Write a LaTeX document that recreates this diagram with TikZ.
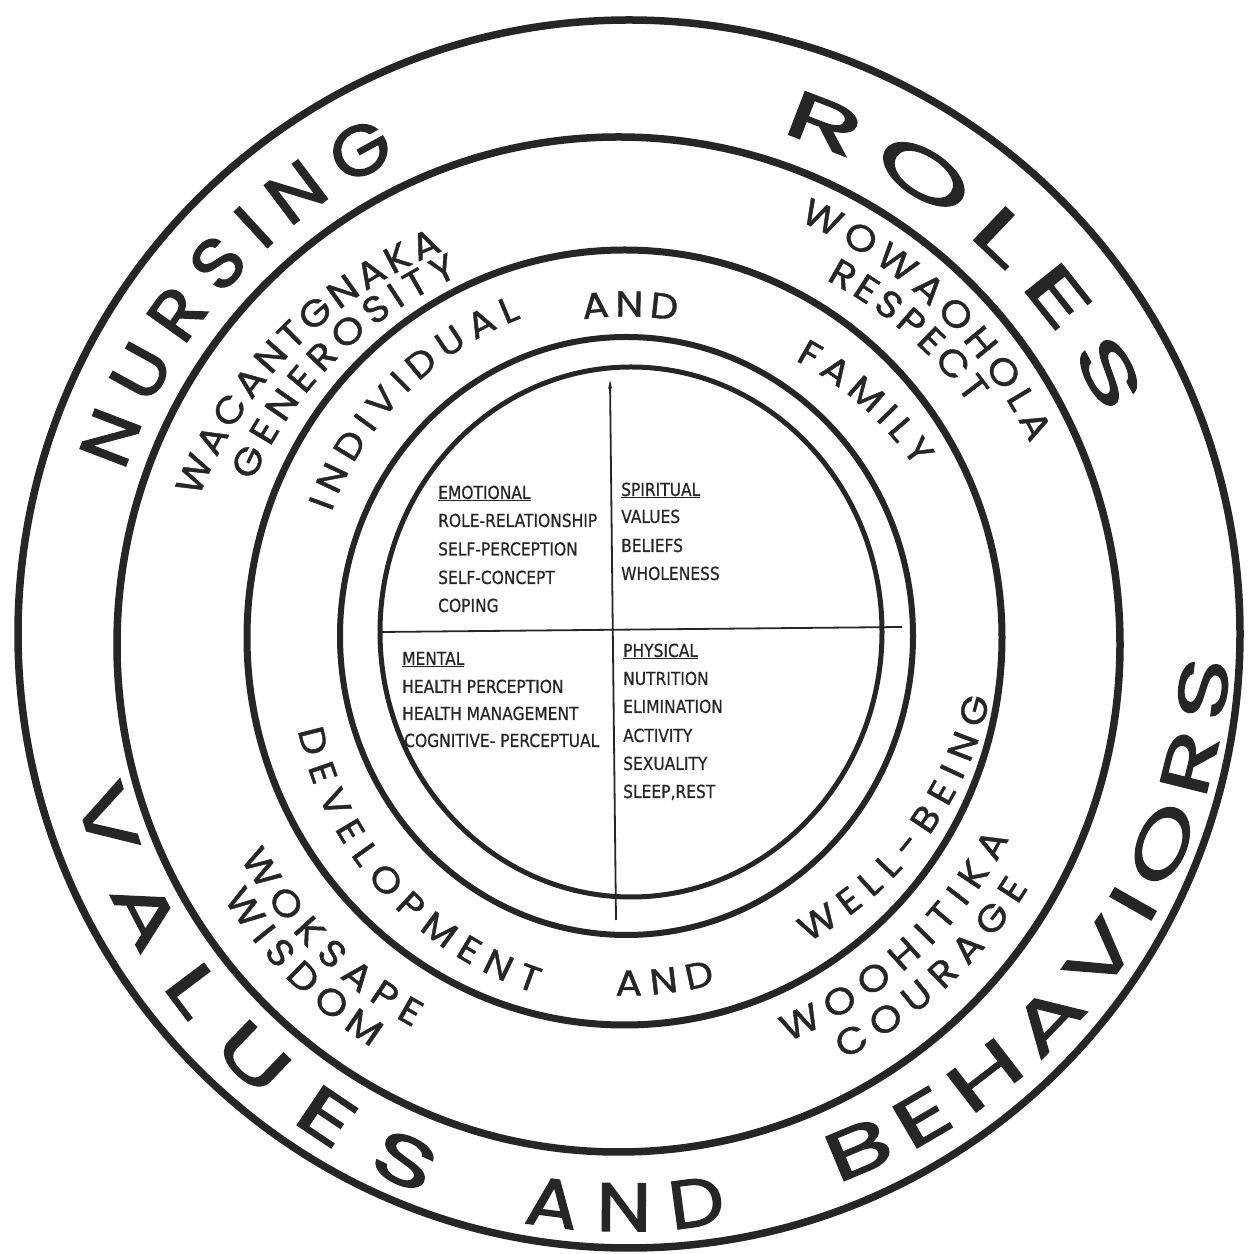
\documentclass[tikz,border=0pt]{standalone}
\usepackage{fontspec}
\usetikzlibrary{decorations.text,arrows.meta}
\newfontfamily\gothicR[FakeStretch=1.1,FakeBold=1.2]{Poppins}
\newfontfamily\gothicN[FakeStretch=1.1,FakeBold=2]{Poppins}
\newfontfamily\gothicB[FakeStretch=1.15,FakeBold=2]{Poppins}
\newfontfamily\gothicC[FakeStretch=1.6,FakeBold=2]{Poppins}
\newfontfamily\gothicD[FakeStretch=1.95,FakeBold=2]{Poppins}
\newfontfamily\innerfont[FakeStretch=0.86,FakeBold=0.6]{DejaVu Sans}
\definecolor{ink}{HTML}{262626}
\newcommand\fNurs{\gothicN\fontsize{70}{80}\selectfont\color{ink}}
\newcommand\fRoles{\gothicD\fontsize{66}{76}\selectfont\color{ink}}
\newcommand\fVal{\gothicC\fontsize{68}{78}\selectfont\color{ink}}
\newcommand\fAnd{\gothicB\fontsize{68}{78}\selectfont\color{ink}}
\newcommand\fRingC{\gothicR\fontsize{37}{42}\selectfont\color{ink}}
\newcommand\fRingD{\gothicR\fontsize{36}{41}\selectfont\color{ink}}
% #1 format, #2 word, #3 start angle, #4 end angle, #5 start radius, #6 end radius
\newcommand\arcword[6]{%
  \path[decorate,decoration={text along path,text={#1#2},text align=fit to path}]
    plot[domain=#3:#4,samples=90,variable=\t]
    ({(#5+(#6-#5)*(\t-(#3))/((#4)-(#3)))*cos(\t)},{(#5+(#6-#5)*(\t-(#3))/((#4)-(#3)))*sin(\t)});
}
\begin{document}
\begin{tikzpicture}[x=1pt,y=1pt,
  ring/.style={draw=ink},
  axis/.style={draw=ink,line width=1.8pt},
  inner/.style={font=\innerfont\fontsize{18}{20}\selectfont,text=ink,inner sep=0pt,anchor=base west}]
\fill[white] (0,0) rectangle (1253,1254);
\useasboundingbox (0,0) rectangle (1253,1254);

% ---------- outer ring words ----------
\begin{scope}[shift={(624,615)}]
  \arcword{|\fNurs|}{NURSING}{161.5}{115.1}{527}{531}
  \arcword{|\fRoles|}{ROLES}{73}{24.7}{530}{530}
  \arcword{|\fVal|}{VALUES}{195.4}{250.2}{569}{591}
  \arcword{|\fAnd|}{AND}{260.2}{280}{592}{592}
  \arcword{|\fVal|}{BEHAVIORS}{291.3}{358}{584}{606}
\end{scope}

% ---------- third ring words ----------
\begin{scope}[shift={(621.5,613)}]
  \arcword{|\fRingC|}{WACANTGNAKA}{161.3}{114.6}{446.5}{429}
  \arcword{|\fRingC|}{GENEROSITY}{156.6}{114}{401.6}{399.6}
  \arcword{|\fRingC|}{WOWAOHOLA}{67.1}{25.8}{456}{454}
  \arcword{|\fRingC|}{RESPECT}{60.5}{34.2}{415}{421}
  \arcword{|\fRingC|}{WOKSAPE}{209.6}{241.7}{438.5}{439}
  \arcword{|\fRingC|}{WISDOM}{212.9}{238.4}{474}{477}
  \arcword{|\fRingC|}{WOOHITIKA}{292.5}{333}{433.7}{435}
  \arcword{|\fRingC|}{COURAGE}{298}{328.8}{473.8}{476}
\end{scope}

% ---------- fourth ring words ----------
\begin{scope}[shift={(625.5,617)}]
  \arcword{|\fRingD|}{INDIVIDUAL}{157}{108.1}{319.5}{335.5}
  \arcword{|\fRingD|}{AND}{97.6}{80.8}{320.5}{320.5}
  \arcword{|\fRingD|}{FAMILY}{58.5}{30.3}{324.5}{335.5}
  \arcword{|\fRingD|}{DEVELOPMENT}{195.9}{255.8}{340.5}{367.5}
  \arcword{|\fRingD|}{AND}{268.4}{284.5}{358.5}{358.5}
  \arcword{|\fRingD|}{WELL-BEING}{300.8}{350.4}{355.5}{369.5}
\end{scope}

% ---------- inner quadrant texts ----------
\node[inner] (emo) at (438,755) {\underline{EMOTIONAL}};
\node[inner] (rol) at (438,727) {ROLE-RELATIONSHIP};
\node[inner] (spe) at (438,698.5) {SELF-PERCEPTION};
\node[inner] (sco) at (438,670) {SELF-CONCEPT};
\node[inner] (cop) at (438,642) {COPING};

\node[inner] (spi) at (621,758) {\underline{SPIRITUAL}};
\node[inner] (val) at (621,731) {VALUES};
\node[inner] (bel) at (621,702) {BELIEFS};
\node[inner] (who) at (621,674) {WHOLENESS};

\node[inner] (men) at (402,589) {\underline{MENTAL}};
\node[inner] (hpe) at (402,561) {HEALTH PERCEPTION};
\node[inner] (hma) at (402,534) {HEALTH MANAGEMENT};
\node[inner] (cog) at (404,507) {COGNITIVE- PERCEPTUAL};

\node[inner] (phy) at (623,597) {\underline{PHYSICAL}};
\node[inner] (nut) at (623,569) {NUTRITION};
\node[inner] (eli) at (623,541) {ELIMINATION};
\node[inner] (act) at (623,512) {ACTIVITY};
\node[inner] (sex) at (623,484) {SEXUALITY};
\node[inner] (sle) at (623,456) {SLEEP,REST};

% ---------- axes ----------
\coordinate (vbot) at (616,334);
\coordinate (vtop) at (610,874);
\coordinate (hleft) at (380,622);
\coordinate (hright) at (902,627);
\draw[axis,-{Stealth[length=9pt,width=4pt]}] (vbot) -- (vtop);
\draw[axis] (hleft) -- (hright);

% ---------- circles ----------
\draw[ring,line width=7.5pt] (629,620) ellipse [x radius=611, y radius=614];
\draw[ring,line width=7.5pt] (618.5,609.5) ellipse [x radius=501.5, y radius=507.5];
\draw[ring,line width=7pt] (624.5,616.5) ellipse [x radius=377.5, y radius=387.5];
\draw[ring,line width=6pt] (626.5,618) ellipse [x radius=286.5, y radius=299];
\draw[ring,line width=5pt] (631,622) ellipse [x radius=251, y radius=265];
\end{tikzpicture}
\end{document}
